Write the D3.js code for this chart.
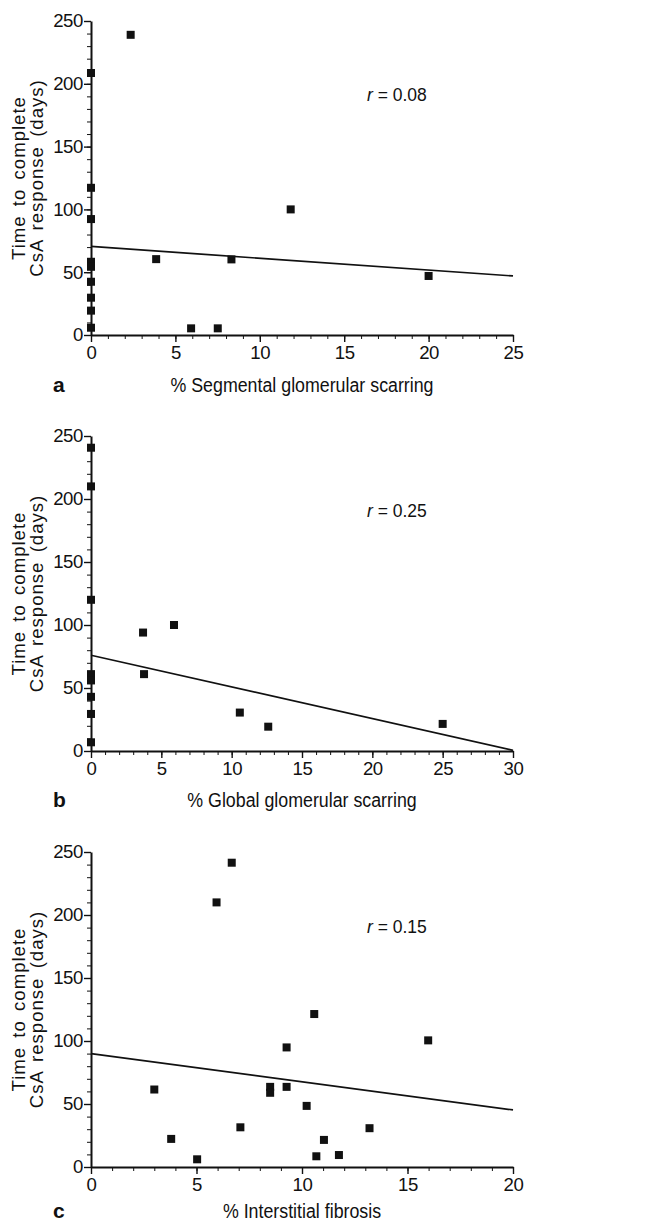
<!DOCTYPE html>
<html>
<head>
<meta charset="utf-8">
<script src="https://cdn.jsdelivr.net/npm/d3@7"></script>
<style>
  body { margin: 0; background: #fff; }
  text { font-family: "Liberation Sans", Arial, sans-serif; fill: #111; }
</style>
</head>
<body>
<div id="wrapper"></div>
<script>
// values
const yTicks = [0, 50, 100, 150, 200, 250]

const segX = [2.35, 0, 0, 0, 0, 0, 0, 0, 0, 0, 3.86, 5.93, 7.51, 8.32, 11.83, 20]
const segY = [239, 208.6, 117.2, 92.3, 58.3, 54.3, 42.4, 29.7, 19.4, 5.8, 60.4, 5.3, 5.3, 60.2, 100, 47]
const segFit = [[0, 70.5], [25, 47]]
const segXTicks = [0, 5, 10, 15, 20, 25]

const globX = [0, 0, 0, 0, 0, 0, 0, 0, 3.7, 3.77, 5.9, 10.58, 12.6, 25]
const globY = [240.7, 210, 120, 61, 56, 43, 29.4, 6.9, 94, 61, 100, 30.5, 19.3, 21.5]
const globFit = [[0, 76], [30, 0.5]]
const globXTicks = [0, 5, 10, 15, 20, 25, 30]

const fibX = [6.67, 5.95, 10.58, 9.27, 15.98, 3.0, 8.49, 8.49, 9.27, 10.22, 7.08, 3.8, 5.03, 11.04, 10.68, 11.75, 13.2]
const fibY = [241.5, 210, 121.4, 94.9, 100.5, 61.5, 63.6, 58.9, 63.6, 48.5, 31.5, 22.3, 6.1, 21.5, 8.5, 9.5, 30.8]
const fibFit = [[0, 90], [20, 45.3]]
const fibXTicks = [0, 5, 10, 15, 20]

const panels = [
    { xs: segX, ys: segY, fit: segFit, xTicks: segXTicks, xMax: 25, top: 21, bottom: 335, labelGap: 57,
      letter: "a", xLabel: "% Segmental glomerular scarring", r: "0.08" },
    { xs: globX, ys: globY, fit: globFit, xTicks: globXTicks, xMax: 30, top: 436, bottom: 751, labelGap: 56,
      letter: "b", xLabel: "% Global glomerular scarring", r: "0.25" },
    { xs: fibX, ys: fibY, fit: fibFit, xTicks: fibXTicks, xMax: 20, top: 852, bottom: 1167, labelGap: 51,
      letter: "c", xLabel: "% Interstitial fibrosis", r: "0.15" },
]

const width = 657
const height = 1225
const left = 91
const right = 513
const ink = "#111"

const svg = d3.select("#wrapper")
    .append("svg")
    .attr("width", width)
    .attr("height", height)

panels.forEach(p => {
    const g = svg.append("g")

    const xScale = d3.scaleLinear()
        .domain([0, p.xMax])
        .range([left, right])

    const yScale = d3.scaleLinear()
        .domain([0, 250])
        .range([p.bottom, p.top])

    // minor ticks
    g.append("g")
        .attr("transform", `translate(0,${p.bottom})`)
        .call(d3.axisBottom(xScale).tickValues(d3.range(0, p.xMax + 1, 1))
            .tickSize(4).tickFormat(""))
        .call(a => a.select(".domain").remove())
        .call(a => a.selectAll("line").attr("stroke", ink).attr("stroke-width", 1))

    g.append("g")
        .attr("transform", `translate(${left},0)`)
        .call(d3.axisLeft(yScale).tickValues(d3.range(0, 251, 10))
            .tickSize(4).tickFormat(""))
        .call(a => a.select(".domain").remove())
        .call(a => a.selectAll("line").attr("stroke", ink).attr("stroke-width", 1))

    // major axes
    const xAxis = g.append("g")
        .attr("transform", `translate(0,${p.bottom})`)
        .call(d3.axisBottom(xScale).tickValues(p.xTicks).tickSize(7).tickSizeOuter(0).tickPadding(4))
    xAxis.select(".domain").attr("stroke", ink).attr("stroke-width", 2)
    xAxis.selectAll(".tick line").attr("stroke", ink).attr("stroke-width", 1.4)
    xAxis.selectAll(".tick text")
        .style("font-size", "18.6px")
        .style("letter-spacing", "-0.4px")
        .attr("fill", ink)

    const yAxis = g.append("g")
        .attr("transform", `translate(${left},0)`)
        .call(d3.axisLeft(yScale).tickValues(yTicks).tickSize(7).tickSizeOuter(0).tickPadding(1))
    yAxis.select(".domain").attr("stroke", ink).attr("stroke-width", 2)
    yAxis.selectAll(".tick line").attr("stroke", ink).attr("stroke-width", 1.4)
    yAxis.selectAll(".tick text")
        .style("font-size", "18.6px")
        .style("letter-spacing", "-0.4px")
        .attr("fill", ink)

    // regression line
    g.append("line")
        .attr("x1", xScale(p.fit[0][0]))
        .attr("y1", yScale(p.fit[0][1]))
        .attr("x2", xScale(p.fit[1][0]))
        .attr("y2", yScale(p.fit[1][1]))
        .attr("stroke", ink)
        .attr("stroke-width", 1.7)

    // points
    g.selectAll("rect")
        .data(d3.range(p.xs.length))
        .enter()
        .append("rect")
        .attr("x", i => xScale(p.xs[i]) - 4)
        .attr("y", i => yScale(p.ys[i]) - 4)
        .attr("width", 8)
        .attr("height", 8)
        .attr("fill", ink)

    // r label
    const rText = g.append("text")
        .attr("x", 367)
        .attr("y", yScale(200) + 17.5)
        .style("font-size", "17.5px")
    rText.append("tspan").style("font-style", "italic").text("r")
    rText.append("tspan").text(" = " + p.r)

    // y label, two lines
    const cy = (p.top + p.bottom) / 2
    const yLabel = g.append("text")
        .attr("transform", `translate(0,${cy}) rotate(-90)`)
        .attr("text-anchor", "middle")
        .style("font-size", "18.6px")
        .style("letter-spacing", "1px")
        .style("word-spacing", "3px")
    yLabel.append("tspan").attr("x", 0).attr("y", 25).text("Time to complete")
    yLabel.append("tspan").attr("x", 0).attr("y", 42.5).text("CsA response (days)")

    // x label
    g.append("text")
        .attr("transform", `translate(${(left + right) / 2},${p.bottom + p.labelGap}) scale(0.89,1)`)
        .attr("text-anchor", "middle")
        .style("font-size", "20px")
        .text(p.xLabel)

    g.append("text")
        .attr("x", 53)
        .attr("y", p.bottom + p.labelGap)
        .style("font-size", "21px")
        .style("font-weight", "bold")
        .text(p.letter)
})
</script>
</body>
</html>
